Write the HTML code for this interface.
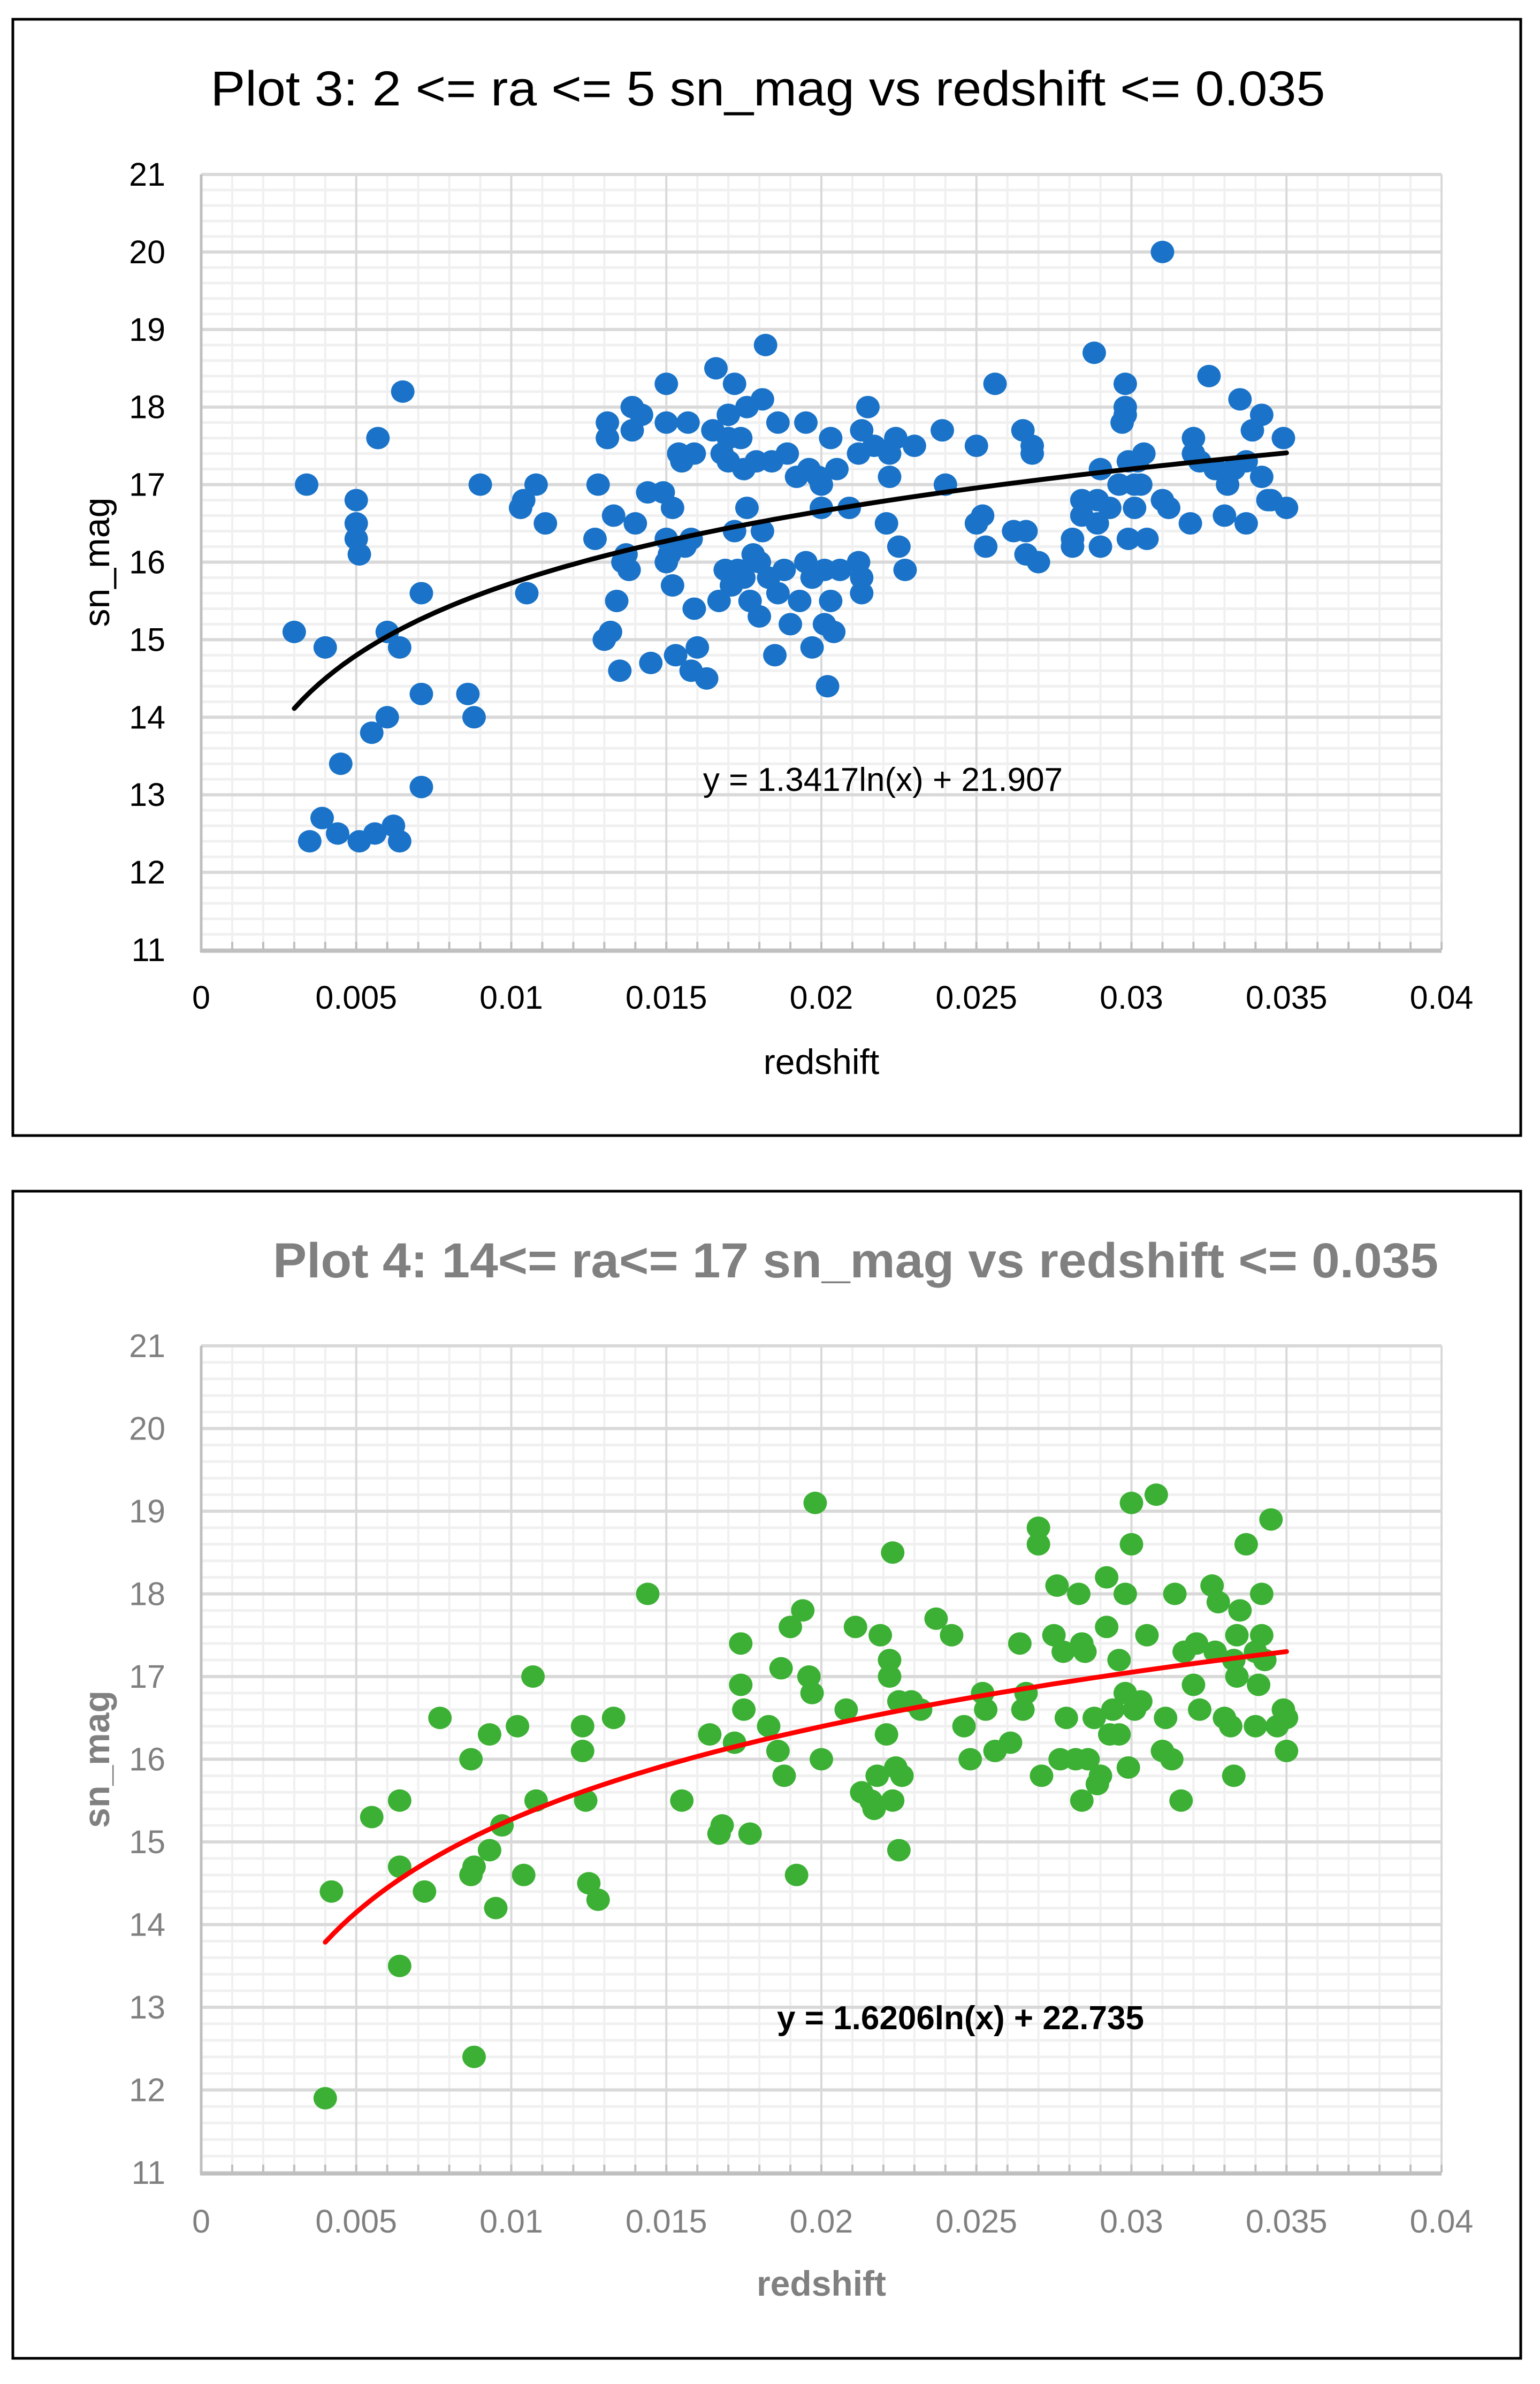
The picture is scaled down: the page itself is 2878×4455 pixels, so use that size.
<!DOCTYPE html>
<html><head><meta charset="utf-8"><style>
html,body{margin:0;padding:0;background:#fff;}
svg{display:block;}
text{font-family:"Liberation Sans",sans-serif;}
</style></head><body>
<svg id="root" width="2878" height="4455" viewBox="0 0 2878 4455" xmlns="http://www.w3.org/2000/svg">
<rect x="0" y="0" width="2878" height="4455" fill="#fff"/>
<rect x="24" y="36" width="2818" height="2086" fill="none" stroke="#000" stroke-width="5"/>
<rect x="24" y="2226" width="2818" height="2181" fill="none" stroke="#000" stroke-width="5"/>
<text x="1435" y="197" font-size="92" text-anchor="middle" textLength="2083" lengthAdjust="spacingAndGlyphs" fill="#000">Plot 3: 2 &lt;= ra &lt;= 5 sn_mag vs redshift &lt;= 0.035</text>
<text x="1599" y="2387" font-size="92" font-weight="bold" text-anchor="middle" textLength="2178" lengthAdjust="spacingAndGlyphs" fill="#808080">Plot 4: 14&lt;= ra&lt;= 17 sn_mag vs redshift &lt;= 0.035</text>
<g id="p3"></g>
<g id="p4"></g>
</svg>
<script>
const xTicks = [0,0.005,0.01,0.015,0.02,0.025,0.03,0.035,0.04];
const xTickLabels = ["0","0.005","0.01","0.015","0.02","0.025","0.03","0.035","0.04"];
const yTicks = [11,12,13,14,15,16,17,18,19,20,21];
const yTickLabels = ["11","12","13","14","15","16","17","18","19","20","21"];

const p3Redshift = [0.003,0.0034,0.0035,0.0039,0.004,0.0044,0.0045,0.005,0.005,0.005,0.0051,0.0051,0.0055,0.0056,0.0057,0.006,0.006,0.0062,0.0064,0.0064,0.0065,0.0071,0.0071,0.0071,0.0086,0.0088,0.009,0.0103,0.0104,0.0105,0.0108,0.0111,
0.0127,0.0128,0.013,0.0131,0.0131,0.0132,0.0133,0.0134,0.0135,0.0136,0.0137,0.0138,0.0139,0.0139,0.014,0.0142,0.0144,0.0145,0.0149,0.015,0.015,0.015,0.015,0.0151,0.0152,0.0152,0.0153,0.0154,0.0155,0.0156,0.0157,0.0158,0.0158,0.0159,0.0159,0.016,0.0163,0.0165,0.0166,0.0167,0.0168,0.0169,0.017,0.017,0.017,0.0171,0.0172,0.0172,0.0173,0.0174,0.0175,0.0175,0.0176,0.0176,0.0177,0.0178,0.0179,0.018,0.018,0.0181,0.0181,0.0182,0.0183,0.0184,0.0185,0.0186,0.0186,0.0188,0.0189,0.019,0.0192,0.0193,0.0195,0.0195,0.0196,0.0197,0.0197,0.0199,0.02,0.02,0.0201,0.0201,0.0202,0.0203,0.0203,0.0204,0.0205,0.0206,0.0209,0.0212,0.0212,0.0213,0.0213,0.0213,0.0215,0.0217,0.0221,0.0222,0.0222,0.0224,0.0225,0.0227,0.023,0.0239,0.024,
0.025,0.025,0.0252,0.0253,0.0256,0.0262,0.0265,0.0266,0.0266,0.0268,0.0268,0.027,0.0281,0.0281,0.0284,0.0284,0.0288,0.0289,0.0289,0.029,0.029,0.0293,0.0296,0.0297,0.0298,0.0298,0.0298,0.0299,0.0299,0.0301,0.0301,0.0302,0.0303,0.0304,0.0305,0.031,0.031,0.0312,0.0319,0.032,0.032,0.0322,0.0325,0.0327,0.033,0.0331,0.0333,0.0335,0.0337,0.0337,0.0339,0.0342,0.0342,0.0344,0.0345,0.0349,0.035];
const p3Mag = [15.1,17.0,12.4,12.7,14.9,12.5,13.4,16.8,16.5,16.3,16.1,12.4,13.8,12.5,17.6,15.1,14.0,12.6,12.4,14.9,18.2,15.6,14.3,13.1,14.3,14.0,17.0,16.7,16.8,15.6,17.0,16.5,
16.3,17.0,15.0,17.8,17.6,15.1,16.6,15.5,14.6,16.0,16.1,15.9,17.7,18.0,16.5,17.9,16.9,14.7,16.9,18.3,17.8,16.3,16.0,16.1,15.7,16.7,14.8,17.4,17.3,16.2,17.8,16.3,14.6,17.4,15.4,14.9,14.5,17.7,18.5,15.5,17.4,15.9,17.9,17.6,17.3,15.7,18.3,16.4,15.9,17.6,17.2,15.8,18.0,16.7,15.5,16.1,17.3,15.3,16.0,16.4,18.1,18.8,15.8,17.3,14.8,15.6,17.8,15.9,17.4,15.2,17.1,15.5,17.8,16.0,17.2,15.8,14.9,17.1,17.0,16.7,15.9,15.2,14.4,17.6,15.5,15.1,17.2,15.9,16.7,17.4,16.0,15.8,15.6,17.7,18.0,17.5,16.5,17.1,17.4,17.6,16.2,15.9,17.5,17.7,17.0,
17.5,16.5,16.6,16.2,18.3,16.4,17.7,16.4,16.1,17.4,17.5,16.0,16.3,16.2,16.6,16.8,18.7,16.5,16.8,17.2,16.2,16.7,17.0,17.8,18.0,18.3,17.9,17.3,16.3,17.0,16.7,17.3,17.0,17.4,16.3,20.0,16.8,16.7,16.5,17.6,17.4,17.3,18.4,17.2,16.6,17.0,17.2,18.1,17.3,16.5,17.7,17.9,17.1,16.8,16.8,17.6,16.7];
const p3Fit = [1.3417, 21.907];
const p3FitRange = [0.003, 0.035];

const p4Redshift = [0.004,0.0042,0.0055,0.0064,0.0064,0.0064,0.0072,0.0077,0.0087,0.0087,0.0088,0.0088,0.0093,0.0093,0.0095,0.0097,0.0102,0.0104,0.0107,0.0108,0.0123,0.0123,0.0124,0.0125,0.0128,0.0133,0.0144,0.0155,0.0164,0.0167,0.0168,0.0172,0.0174,0.0174,0.0175,0.0177,0.0183,0.0186,0.0187,0.0188,0.019,0.0192,0.0194,0.0196,0.0197,0.0198,0.02,0.0208,0.0211,0.0213,0.0216,0.0217,0.0218,0.0219,0.0221,0.0222,0.0222,0.0223,0.0223,0.0224,0.0225,0.0225,0.0226,0.0229,0.0232,0.0237,0.0242,0.0246,0.0248,0.0252,0.0253,0.0256,0.0261,0.0264,0.0265,0.0266,0.027,0.027,0.0271,0.0275,0.0276,0.0277,0.0278,0.0279,0.0282,0.0283,0.0284,0.0284,0.0285,0.0286,0.0288,0.0289,0.029,0.0292,0.0292,0.0293,0.0294,0.0296,0.0296,0.0298,0.0298,0.0299,0.03,0.03,0.0301,0.0303,0.0305,0.0308,0.031,0.0311,0.0313,0.0314,0.0316,0.0317,0.032,0.0321,0.0322,0.0326,0.0327,0.0328,0.033,0.0332,0.0333,0.0333,0.0334,0.0334,0.0335,0.0337,0.034,0.034,0.0341,0.0342,0.0342,0.0343,0.0345,0.0347,0.0349,0.035,0.035];
const p4Mag = [11.9,14.4,15.3,15.5,14.7,13.5,14.4,16.5,16.0,14.6,12.4,14.7,16.3,14.9,14.2,15.2,16.4,14.6,17.0,15.5,16.4,16.1,15.5,14.5,14.3,16.5,18.0,15.5,16.3,15.1,15.2,16.2,17.4,16.9,16.6,15.1,16.4,16.1,17.1,15.8,17.6,14.6,17.8,17.0,16.8,19.1,16.0,16.6,17.6,15.6,15.5,15.4,15.8,17.5,16.3,17.0,17.2,15.5,18.5,15.9,14.9,16.7,15.8,16.7,16.6,17.7,17.5,16.4,16.0,16.8,16.6,16.1,16.2,17.4,16.6,16.8,18.8,18.6,15.8,17.5,18.1,16.0,17.3,16.5,16.0,18.0,17.4,15.5,17.3,16.0,16.5,15.7,15.8,18.2,17.6,16.3,16.6,17.2,16.3,16.8,18.0,15.9,18.6,19.1,16.6,16.7,17.5,19.2,16.1,16.5,16.0,18.0,15.5,17.3,16.9,17.4,16.6,18.1,17.3,17.9,16.5,16.4,15.8,17.2,17.0,17.5,17.8,18.6,16.4,17.3,16.9,17.5,18.0,17.2,18.9,16.4,16.6,16.1,16.5];
const p4Fit = [1.6206, 22.735];
const p4FitRange = [0.004, 0.035];

const NS = "http://www.w3.org/2000/svg";
function mk(tag, attrs, parent){
  const e = document.createElementNS(NS, tag);
  for (const k in attrs) e.setAttribute(k, attrs[k]);
  parent.appendChild(e);
  return e;
}

function drawChart(g, cfg){
  const L = 376, R = 2694, T = cfg.top, B = cfg.bottom;
  const xs = v => L + (v - 0) / 0.04 * (R - L);
  const ys = v => B - (v - 11) / 10 * (B - T);
  for (let i = 0; i <= 40; i++) {
    const v = i * 0.001;
    if (i % 5 === 0) continue;
    const ln = mk('line', {x1: xs(v), x2: xs(v), y1: T, y2: B, stroke: '#f0f0f0', 'stroke-width': 4}, g);
    
    
  }
  for (let i = 0; i <= 50; i++) {
    const v = 11 + i * 0.2;
    if (i % 5 === 0) continue;
    const ln = mk('line', {x1: L, x2: R, y1: ys(v), y2: ys(v), stroke: '#f0f0f0', 'stroke-width': 5}, g);
    
    
  }
  xTicks.forEach(v => {
    const ln = mk('line', {x1: xs(v), x2: xs(v), y1: T, y2: B, stroke: '#d9d9d9', 'stroke-width': 4}, g);
    
    
  });
  yTicks.forEach(v => {
    const ln = mk('line', {x1: L, x2: R, y1: ys(v), y2: ys(v), stroke: '#d9d9d9', 'stroke-width': 6}, g);
    
    
  });
  for (let i = 0; i <= 40; i++) {
    const t = mk('line', {x1: xs(i*0.001), x2: xs(i*0.001), y1: B - 15, y2: B, stroke: '#bfbfbf', 'stroke-width': 4}, g);
    
    
  }
  const ya = mk('line', {x1: L, x2: L, y1: T, y2: B + 3, stroke: '#bfbfbf', 'stroke-width': 5}, g);
  
  
  const xa = mk('line', {x1: L - 2, x2: R, y1: B + 2, y2: B + 2, stroke: '#bfbfbf', 'stroke-width': 7}, g);
  
  

  xTicks.forEach((v, i) => {
    const t = mk('text', {x: xs(v), y: cfg.xLabelY, 'font-size': 61, 'text-anchor': 'middle', fill: cfg.textColor}, g);
    t.textContent = xTickLabels[i];
    
    
  });
  yTicks.forEach((v, i) => {
    const t = mk('text', {x: 309, y: ys(v) + 21, 'font-size': 61, 'text-anchor': 'end', fill: cfg.textColor}, g);
    t.textContent = yTickLabels[i];
    
    
  });
  const xt = mk('text', {x: 1535, y: cfg.xTitleY, 'font-size': 66, 'text-anchor': 'middle', fill: cfg.textColor, 'font-weight': cfg.bold ? 'bold' : 'normal'}, g);
  xt.textContent = 'redshift';
  
  
  const cy = (T + B) / 2;
  const yt = mk('text', {x: 182, y: cy, 'font-size': 68, 'text-anchor': 'middle', fill: cfg.textColor, 'font-weight': cfg.bold ? 'bold' : 'normal', transform: 'rotate(-90 182 ' + cy + ') translate(0 22)'}, g);
  yt.textContent = 'sn_mag';
  
  

  cfg.xData.forEach((xv, i) => {
    const c = mk('ellipse', {cx: xs(xv), cy: ys(cfg.yData[i]), rx: 22, ry: 21, fill: cfg.color}, g);
    
    
  });
  let d = '';
  const n = 120;
  for (let k = 0; k <= n; k++) {
    const xv = cfg.fitRange[0] + (cfg.fitRange[1] - cfg.fitRange[0]) * k / n;
    const yv = cfg.fit[0] * Math.log(xv) + cfg.fit[1];
    d += (k ? 'L' : 'M') + xs(xv).toFixed(1) + ' ' + ys(yv).toFixed(1);
  }
  const p = mk('path', {d: d, fill: 'none', stroke: cfg.lineColor, 'stroke-width': 9, 'stroke-linecap': 'round'}, g);
  
  
  const eq = mk('text', {x: cfg.eqX, y: cfg.eqY, 'font-size': 62, 'text-anchor': 'middle', fill: '#000', 'font-weight': cfg.bold ? 'bold' : 'normal'}, g);
  eq.textContent = cfg.eqText;
  
  
}

drawChart(document.getElementById('p3'), {
  top: 326, bottom: 1775, xLabelY: 1885, xTitleY: 2007, textColor: '#000', bold: false,
  xData: p3Redshift, yData: p3Mag, color: '#1a73c8', lineColor: '#000',
  fit: p3Fit, fitRange: p3FitRange, eqX: 1650, eqY: 1478, eqText: 'y = 1.3417ln(x) + 21.907'
});
drawChart(document.getElementById('p4'), {
  top: 2515, bottom: 4060, xLabelY: 4172, xTitleY: 4290, textColor: '#808080', bold: true,
  xData: p4Redshift, yData: p4Mag, color: '#3cb034', lineColor: '#ff0000',
  fit: p4Fit, fitRange: p4FitRange, eqX: 1795, eqY: 3792, eqText: 'y = 1.6206ln(x) + 22.735'
});
</script>
</body></html>
